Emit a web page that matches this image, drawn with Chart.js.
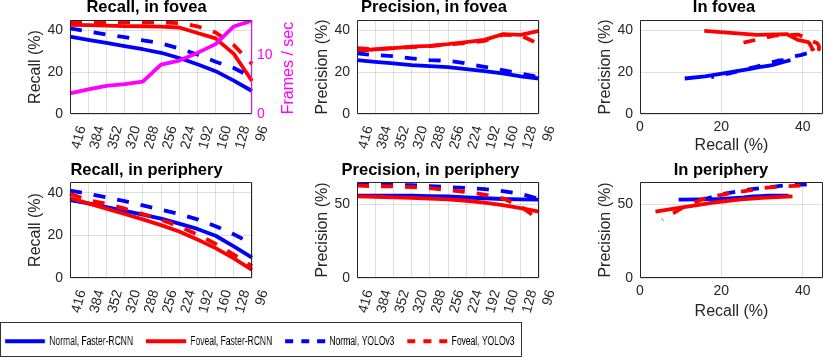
<!DOCTYPE html>
<html>
<head>
<meta charset="utf-8">
<script src="https://cdn.jsdelivr.net/npm/chart.js@4.4.1/dist/chart.umd.min.js"></script>
<style>
  html, body { margin: 0; padding: 0; background: #fff; }
  #page { position: relative; width: 830px; height: 358px; overflow: hidden; }
  #page canvas { position: absolute; left: 0; top: 0; }
  #legendBox { position: absolute; left: 0; top: 322px; width: 520px; height: 33px; border: 1px solid #333; }
  /* legend text is condensed in the original, so the legend canvas is squeezed horizontally */
  #page #leg { left: -8px; top: 316.7px; transform: scaleX(0.71); transform-origin: 0 0; }
</style>
</head>
<body>
<div id="page">
  <canvas id="c1" width="830" height="358"></canvas>
  <canvas id="c2" width="830" height="358"></canvas>
  <canvas id="c3" width="830" height="358"></canvas>
  <canvas id="c4" width="830" height="358"></canvas>
  <canvas id="c5" width="830" height="358"></canvas>
  <canvas id="c6" width="830" height="358"></canvas>
  <div id="legendBox"></div>
  <canvas id="leg" width="820" height="120"></canvas>
</div>
<script>
const categories = ['416', '384', '352', '320', '288', '256', '224', '192', '160', '128', '96'];

// recall in fovea (%)
const recallFovNormalFrcnn = [37, 35.5, 34, 32.5, 31, 29.3, 26.8, 23.8, 20.5, 16, 11];
const recallFovFovealFrcnn = [42.7, 42.5, 42.3, 42.1, 42, 41.8, 41.4, 38.8, 36.2, 28.8, 15.8];
const recallFovNormalYolo = [41, 39.5, 38, 36.8, 35.3, 33.8, 31.4, 28.5, 25, 22, 17.5];
const recallFovFovealYolo = [44, 44, 44, 44, 44, 43.8, 43.5, 42, 39, 33, 24];
const framesPerSec = [3.5, 4.2, 4.8, 5.1, 5.5, 8.4, 9.1, 10.4, 11.9, 14.9, 15.9];

// precision in fovea (%)
const precFovNormalFrcnn = [25.8, 25, 24.2, 23.4, 22.9, 22.4, 21.5, 20.5, 19.4, 18, 17];
const precFovFovealFrcnn = [30.2, 31, 31.5, 32.3, 32.6, 33.4, 34.4, 35.5, 38.2, 37.9, 39.8];
const precFovNormalYolo = [29, 28.2, 27.7, 26.6, 25.8, 25.5, 24.2, 22.6, 21, 19.4, 17.7];
const precFovFovealYolo = [31.5, 31, 31.5, 32, 32.5, 33.2, 34, 35, 38, 37.5, 33.5];

// recall in periphery (%)
const recallPerNormalFrcnn = [36.5, 35, 33.2, 31.5, 29.7, 27.8, 25.5, 23, 19.8, 14.8, 9.5];
const recallPerFovealFrcnn = [37.5, 35, 32.5, 30, 27.5, 24.8, 21.8, 18, 14, 9.2, 3.8];
const recallPerNormalYolo = [41, 39.5, 37.8, 36, 34, 32, 30, 27.5, 24.3, 20.5, 16];
const recallPerFovealYolo = [39.5, 36.5, 34.8, 32.5, 30, 27.3, 24.2, 20.4, 16, 11, 5.5];

// precision in periphery (%)
const precPerNormalFrcnn = [55.7, 55.8, 55.8, 55.7, 55.5, 55.2, 54.5, 54, 53.5, 53.3, 53];
const precPerFovealFrcnn = [55.3, 55, 54.6, 54.2, 53.8, 53.2, 52.3, 51, 49.3, 47.3, 45];
const precPerNormalYolo = [63.3, 63.3, 63.2, 62.8, 62.2, 61.5, 61, 60.2, 58.8, 57, 53.5];
const precPerFovealYolo = [62.5, 62.2, 62, 61.5, 60.8, 59.5, 58.3, 56.5, 54, 48.5, 39.5];

const legendLabels = ['Normal, Faster-RCNN', 'Foveal, Faster-RCNN', 'Normal, YOLOv3', 'Foveal, YOLOv3'];

const INK = '#262626';
const GRID = 'rgba(38,38,38,0.15)';
const BLUE = '#0000ff', RED = '#ff0000', MAG = '#ff00ff';
const FONT = "'Liberation Sans', Arial, Helvetica, sans-serif";
const SQUEEZE = 0.71;

Chart.defaults.font.family = FONT;
Chart.defaults.color = INK;
Chart.defaults.animation = false;
Chart.defaults.responsive = false;
Chart.defaults.events = [];
Chart.defaults.plugins.legend.display = false;
Chart.defaults.plugins.tooltip.enabled = false;

function series(label, data, color, dashed, axis) {
  return {
    label: label, data: data,
    borderColor: color, backgroundColor: color,
    borderWidth: 3.8, borderDash: dashed ? [12, 12] : [],
    borderJoinStyle: 'round', pointRadius: 0, tension: 0,
    showLine: true, yAxisID: axis || 'y'
  };
}

// the four detector curves, topmost first (Chart.js draws index 0 last)
function fourLines(nf, ff, ny, fy) {
  return [
    series(legendLabels[3], fy, RED, true),
    series(legendLabels[2], ny, BLUE, true),
    series(legendLabels[1], ff, RED, false),
    series(legendLabels[0], nf, BLUE, false)
  ];
}

function pairs(xs, ys) {
  return xs.map((x, i) => ({ x: x, y: ys[i] }));
}

// box outline, subplot title and (optionally) the right-hand label
function decor(title, cx, cy, right) {
  return {
    id: 'decor',
    afterDraw(chart) {
      const ctx = chart.ctx, a = chart.chartArea;
      const l = Math.round(a.left) + 0.5, r = Math.round(a.right) - 0.5;
      const t = Math.round(a.top) + 0.5, b = Math.round(a.bottom) - 0.5;
      ctx.save();
      ctx.lineWidth = 1;
      ctx.strokeStyle = INK;
      ctx.beginPath();
      ctx.moveTo(r, t); ctx.lineTo(l, t); ctx.lineTo(l, b); ctx.lineTo(r, b);
      if (!right) ctx.lineTo(r, t);
      ctx.stroke();
      if (right) {
        ctx.strokeStyle = right.color;
        ctx.beginPath(); ctx.moveTo(r, t); ctx.lineTo(r, b); ctx.stroke();
        ctx.translate(right.x, right.y);
        ctx.rotate(-Math.PI / 2);
        ctx.fillStyle = right.color;
        ctx.font = '16px ' + FONT;
        ctx.textAlign = 'center';
        ctx.textBaseline = 'middle';
        ctx.fillText(right.text, 0, 0);
        ctx.setTransform(1, 0, 0, 1, 0, 0);
      }
      ctx.fillStyle = '#000';
      ctx.font = 'bold 16.5px ' + FONT;
      ctx.textAlign = 'center';
      ctx.textBaseline = 'middle';
      ctx.fillText(title, cx, cy);
      ctx.restore();
    }
  };
}

function yAxis(max, step, label) {
  return {
    min: 0, max: max,
    ticks: { stepSize: step, includeBounds: false, padding: 7, color: INK, font: { size: 14 } },
    grid: { color: GRID, drawTicks: false },
    border: { display: false },
    title: { display: true, text: label, color: INK, font: { size: 16 }, padding: 0 },
    afterFit: s => { s.width = 44; s.paddingTop = 0; s.paddingBottom = 0; }
  };
}

function catAxis() {
  return {
    ticks: { autoSkip: false, minRotation: 75, maxRotation: 75, padding: 10, labelOffset: 12, color: INK, font: { size: 14 } },
    grid: { color: GRID, drawTicks: false },
    border: { display: false },
    afterFit: s => { s.height = 40; s.paddingLeft = 0; s.paddingRight = 0; }
  };
}

function recallAxis(xH) {
  return {
    type: 'linear', min: 0, max: 45,
    ticks: { stepSize: 20, includeBounds: false, maxRotation: 0, padding: 4.5, color: INK, font: { size: 14 } },
    grid: { color: GRID, drawTicks: false },
    border: { display: false },
    title: { display: true, text: 'Recall (%)', color: INK, font: { size: 16 }, padding: 0 },
    afterFit: s => { s.height = xH; s.paddingLeft = 0; s.paddingRight = 0; }
  };
}

// plot areas: left, top, right, bottom
function pad(L, T, R, B, rW, xH) {
  return { left: L - 44, top: T, right: 830 - R - rW, bottom: 358 - B - xH };
}

// Recall, in fovea (with frame rate on the right)
const y2 = {
  position: 'right', min: 0, max: 16,
  ticks: { stepSize: 10, includeBounds: false, padding: 5, color: MAG, font: { size: 14 } },
  grid: { display: false, drawTicks: false },
  border: { display: false },
  afterFit: s => { s.width = 20; s.paddingTop = 0; s.paddingBottom = 0; }
};
new Chart(document.getElementById('c1'), {
  type: 'line',
  data: {
    labels: categories,
    datasets: [series('Frames / sec', framesPerSec, MAG, false, 'y2')]
      .concat(fourLines(recallFovNormalFrcnn, recallFovFovealFrcnn, recallFovNormalYolo, recallFovFovealYolo))
  },
  options: {
    layout: { padding: pad(70, 20, 252, 114, 20, 40) },
    scales: { x: catAxis(), y: yAxis(45, 20, 'Recall (%)'), y2: y2 }
  },
  plugins: [decor('Recall, in fovea', 146.5, 7.5, { color: MAG, text: 'Frames / sec', x: 288.5, y: 68 })]
});

// Precision, in fovea
new Chart(document.getElementById('c2'), {
  type: 'line',
  data: {
    labels: categories,
    datasets: fourLines(precFovNormalFrcnn, precFovFovealFrcnn, precFovNormalYolo, precFovFovealYolo)
  },
  options: {
    layout: { padding: pad(357, 20, 539, 114, 0, 40) },
    scales: { x: catAxis(), y: yAxis(45, 20, 'Precision (%)') }
  },
  plugins: [decor('Precision, in fovea', 434, 7.5)]
});

// In fovea: precision against recall
new Chart(document.getElementById('c3'), {
  type: 'scatter',
  data: {
    datasets: fourLines(
      pairs(recallFovNormalFrcnn, precFovNormalFrcnn),
      pairs(recallFovFovealFrcnn, precFovFovealFrcnn),
      pairs(recallFovNormalYolo, precFovNormalYolo),
      pairs(recallFovFovealYolo, precFovFovealYolo))
  },
  options: {
    layout: { padding: pad(640, 20, 823, 114, 0, 41) },
    scales: { x: recallAxis(41), y: yAxis(45, 20, 'Precision (%)') }
  },
  plugins: [decor('In fovea', 724, 7.5)]
});

// Recall, in periphery
new Chart(document.getElementById('c4'), {
  type: 'line',
  data: {
    labels: categories,
    datasets: fourLines(recallPerNormalFrcnn, recallPerFovealFrcnn, recallPerNormalYolo, recallPerFovealYolo)
  },
  options: {
    layout: { padding: pad(70, 182, 252, 278, 0, 40) },
    scales: { x: catAxis(), y: yAxis(45, 20, 'Recall (%)') }
  },
  plugins: [decor('Recall, in periphery', 146.5, 170)]
});

// Precision, in periphery
new Chart(document.getElementById('c5'), {
  type: 'line',
  data: {
    labels: categories,
    datasets: fourLines(precPerNormalFrcnn, precPerFovealFrcnn, precPerNormalYolo, precPerFovealYolo)
  },
  options: {
    layout: { padding: pad(357, 182, 539, 278, 0, 40) },
    scales: { x: catAxis(), y: yAxis(65, 50, 'Precision (%)') }
  },
  plugins: [decor('Precision, in periphery', 430.5, 170)]
});

// In periphery: precision against recall
new Chart(document.getElementById('c6'), {
  type: 'scatter',
  data: {
    datasets: fourLines(
      pairs(recallPerNormalFrcnn, precPerNormalFrcnn),
      pairs(recallPerFovealFrcnn, precPerFovealFrcnn),
      pairs(recallPerNormalYolo, precPerNormalYolo),
      pairs(recallPerFovealYolo, precPerFovealYolo))
  },
  options: {
    layout: { padding: pad(640, 182, 823, 278, 0, 43) },
    scales: { x: recallAxis(43), y: yAxis(65, 50, 'Precision (%)') }
  },
  plugins: [decor('In periphery', 721, 170)]
});

// shared legend (sizes are pre-divided by the horizontal squeeze)
const legendStyles = [[BLUE, false], [RED, false], [BLUE, true], [RED, true]];
new Chart(document.getElementById('leg'), {
  type: 'line',
  data: {
    labels: [],
    datasets: legendLabels.map((name, i) => ({
      label: name, data: [],
      borderColor: legendStyles[i][0], backgroundColor: legendStyles[i][0],
      borderWidth: 4, borderDash: legendStyles[i][1] ? [8 / SQUEEZE, 8 / SQUEEZE] : []
    }))
  },
  options: {
    scales: { x: { display: false }, y: { display: false } },
    plugins: {
      legend: {
        display: true, align: 'start',
        labels: {
          usePointStyle: true, pointStyle: 'line', pointStyleWidth: 40 / SQUEEZE, padding: 13 / SQUEEZE,
          color: '#000',
          font: { size: 12 },
          generateLabels(chart) {
            const items = Chart.defaults.plugins.legend.labels.generateLabels(chart);
            items.forEach(it => {
              const ds = chart.data.datasets[it.datasetIndex];
              it.lineDash = ds.borderDash;
              it.lineWidth = ds.borderWidth;
              it.strokeStyle = ds.borderColor;
              it.pointStyle = 'line';
            });
            return items;
          }
        }
      }
    }
  }
});
</script>
</body>
</html>
